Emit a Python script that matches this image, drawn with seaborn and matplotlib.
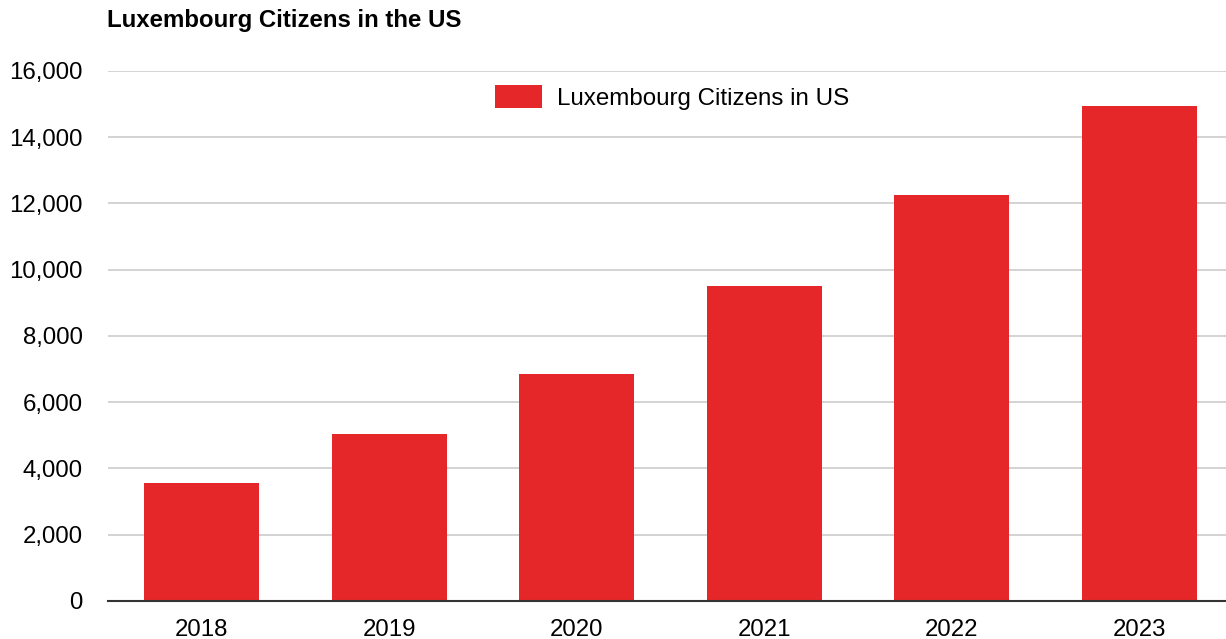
import matplotlib
matplotlib.use("Agg")
import matplotlib.pyplot as plt
import seaborn as sns
import pandas as pd
from matplotlib.ticker import FuncFormatter

# ── Data ──────────────────────────────────────────────────────────────────────
years = ["2018", "2019", "2020", "2021", "2022", "2023"]
citizens = [3570, 5040, 6850, 9500, 12260, 14950]
y_ticks = [0, 2000, 4000, 6000, 8000, 10000, 12000, 14000, 16000]

SERIES = "Luxembourg Citizens in US"
BAR_RED = "#e52729"

df = pd.DataFrame({"year": years, "value": citizens, "series": SERIES})

sns.set_style("white")
plt.rcParams["font.family"] = ["Liberation Sans", "DejaVu Sans"]
plt.rcParams["text.color"] = "black"

fig = plt.figure(figsize=(12.26, 6.39), dpi=100)
ax = fig.add_axes([108 / 1226, 0.0595, 1125 / 1226, 0.8295])

sns.barplot(data=df, x="year", y="value", hue="series",
            palette=[BAR_RED], width=0.613, saturation=1,
            edgecolor="none", ax=ax, zorder=3)

ax.set_ylim(0, 16000)
ax.set_xlim(-0.5, 5.5)
ax.set_yticks(y_ticks)
ax.yaxis.set_major_formatter(FuncFormatter(lambda v, _: f"{int(v):,}"))
ax.grid(axis="y", color="#cccccc", linewidth=1.2, zorder=0)
ax.grid(axis="x", visible=False)

for side in ["top", "right", "left"]:
    ax.spines[side].set_visible(False)
ax.spines["bottom"].set_color("#333333")
ax.spines["bottom"].set_linewidth(1.5)
ax.spines["bottom"].set_zorder(4)

ax.tick_params(axis="both", length=0, labelsize=17.3, colors="black")
ax.tick_params(axis="y", pad=18)
ax.tick_params(axis="x", pad=13)
ax.set_xlabel("")
ax.set_ylabel("")

leg = ax.legend(loc="upper center", bbox_to_anchor=(564 / 1125, 1.005), frameon=False,
                fontsize=17.4, handlelength=1.95, handleheight=1.1, handletextpad=0.6,
                borderaxespad=0.3)
for t in leg.get_texts():
    t.set_color("black")

fig.text(107 / 1226, 1 - 20 / 639, "Luxembourg Citizens in the US",
         fontsize=17.3, fontweight="bold", ha="left", va="center", color="black")

fig.savefig("out.png", dpi=100)
